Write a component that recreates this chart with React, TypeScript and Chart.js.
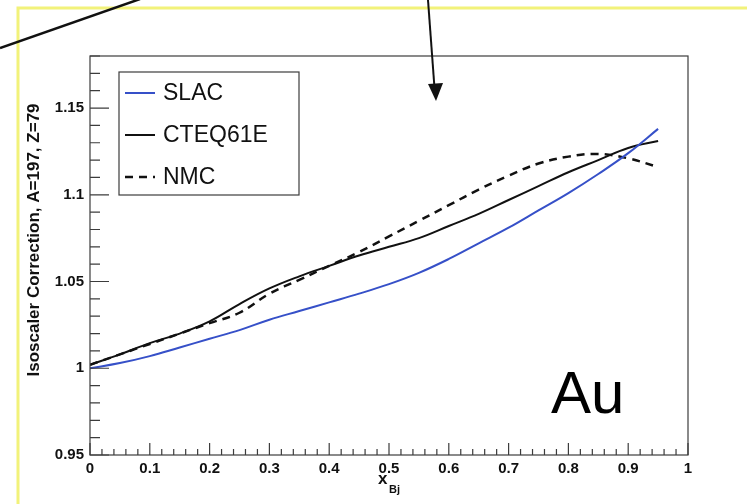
import React, { useEffect, useRef } from "react";
import { Chart, registerables } from "chart.js";

Chart.register(...registerables);

// ---- data ----
const xBj = [0, 0.05, 0.1, 0.15, 0.2, 0.25, 0.3, 0.35, 0.4, 0.45, 0.5, 0.55, 0.6, 0.65, 0.7, 0.75, 0.8, 0.85, 0.9, 0.95];
const slac = [1.0, 1.003, 1.007, 1.012, 1.017, 1.022, 1.028, 1.033, 1.038, 1.043, 1.0485, 1.055, 1.063, 1.072, 1.081, 1.091, 1.101, 1.112, 1.124, 1.138];
const cteq61e = [1.002, 1.008, 1.0145, 1.02, 1.027, 1.037, 1.046, 1.053, 1.059, 1.065, 1.07, 1.075, 1.082, 1.089, 1.097, 1.105, 1.113, 1.12, 1.127, 1.131];
const nmc = [1.002, 1.008, 1.014, 1.02, 1.026, 1.032, 1.043, 1.051, 1.059, 1.067, 1.076, 1.085, 1.094, 1.103, 1.111, 1.118, 1.122, 1.1235, 1.121, 1.116];

const seriesLabels = ["SLAC", "CTEQ61E", "NMC"];
const yAxisTitle = "Isoscaler Correction, A=197, Z=79";
const xAxisTitle = "x";
const xAxisSub = "Bj";
const nucleusLabel = "Au";

const X_MIN = 0, X_MAX = 1, X_STEP = 0.1;
const Y_MIN = 0.95, Y_MAX = 1.18, Y_STEP = 0.05;

const FONT = "'Liberation Sans', Arial, Helvetica, sans-serif";

const fmt = (v: number) => String(Math.round(v * 100) / 100);

const decorPlugin = {
  id: "decor",
  afterDraw(chart: any) {
    const { ctx, chartArea } = chart;
    const { left, right, top, bottom } = chartArea;
    const xs = chart.scales.x;
    const ys = chart.scales.y;
    ctx.save();

    // frame
    ctx.strokeStyle = "#3c3c3c";
    ctx.lineWidth = 1.2;
    ctx.strokeRect(left, top, right - left, bottom - top);

    // x ticks (inward)
    ctx.beginPath();
    for (let i = 0; i <= 50; i++) {
      const v = i * 0.02;
      const px = xs.getPixelForValue(v);
      const len = i % 5 === 0 ? 12 : 6;
      ctx.moveTo(px, bottom);
      ctx.lineTo(px, bottom - len);
    }
    // y ticks (inward)
    for (let i = 95; i <= 118; i++) {
      const v = i / 100;
      const py = ys.getPixelForValue(v);
      const len = i % 5 === 0 ? 19 : 10;
      ctx.moveTo(left, py);
      ctx.lineTo(left + len, py);
    }
    ctx.stroke();

    // legend box
    const lx = left + 29, ly = top + 16, lw = 180, lh = 123;
    ctx.fillStyle = "#fff";
    ctx.fillRect(lx, ly, lw, lh);
    ctx.strokeStyle = "#3c3c3c";
    ctx.lineWidth = 1.2;
    ctx.strokeRect(lx, ly, lw, lh);
    ctx.font = `23px ${FONT}`;
    ctx.textBaseline = "middle";
    ctx.textAlign = "left";
    chart.data.datasets.forEach((ds: any, i: number) => {
      const cy = ly + 21 + i * 42;
      ctx.beginPath();
      ctx.strokeStyle = ds.borderColor;
      ctx.lineWidth = ds.borderWidth;
      ctx.setLineDash(ds.borderDash || []);
      ctx.moveTo(lx + 6, cy);
      ctx.lineTo(lx + 36, cy);
      ctx.stroke();
      ctx.setLineDash([]);
      ctx.fillStyle = "#111";
      ctx.fillText(ds.label, lx + 44, cy + 1);
    });

    // nucleus label
    ctx.font = `60px ${FONT}`;
    ctx.fillStyle = "#000";
    ctx.textBaseline = "alphabetic";
    ctx.textAlign = "left";
    ctx.fillText(nucleusLabel, 551, 413);

    // y axis title
    ctx.save();
    ctx.translate(39, 240);
    ctx.rotate(-Math.PI / 2);
    ctx.font = `bold 17px ${FONT}`;
    ctx.textAlign = "center";
    ctx.textBaseline = "alphabetic";
    ctx.fillStyle = "#111";
    ctx.fillText(yAxisTitle, 0, 0);
    ctx.restore();

    // x axis title with subscript
    ctx.font = `bold 17px ${FONT}`;
    ctx.fillStyle = "#111";
    ctx.textAlign = "left";
    ctx.fillText(xAxisTitle, 378, 484);
    ctx.font = `bold 11px ${FONT}`;
    ctx.fillText(xAxisSub, 389, 493);

    // yellow outer frame (partial)
    ctx.strokeStyle = "#f2f27a";
    ctx.lineWidth = 3;
    ctx.beginPath();
    ctx.moveTo(747, 8);
    ctx.lineTo(18, 8);
    ctx.lineTo(18, 504);
    ctx.stroke();

    // top-left diagonal line
    ctx.strokeStyle = "#111";
    ctx.lineWidth = 2.4;
    ctx.beginPath();
    ctx.moveTo(0, 48);
    ctx.lineTo(140, -1);
    ctx.stroke();

    // arrow
    ctx.lineWidth = 2;
    ctx.beginPath();
    ctx.moveTo(428, 0);
    ctx.lineTo(434.5, 88);
    ctx.stroke();
    ctx.fillStyle = "#111";
    ctx.beginPath();
    ctx.moveTo(436, 101);
    ctx.lineTo(428, 84);
    ctx.lineTo(443, 83);
    ctx.closePath();
    ctx.fill();

    ctx.restore();
  },
};

export default function App() {
  const ref = useRef<HTMLCanvasElement | null>(null);
  useEffect(() => {
    if (!ref.current) return;
    const mk = (ys: number[]) => xBj.map((x, i) => ({ x, y: ys[i] }));
    const chart = new Chart(ref.current, {
      type: "line",
      data: {
        datasets: [
          { label: seriesLabels[0], data: mk(slac), borderColor: "#3650c8", borderWidth: 2, pointRadius: 0, tension: 0.4, fill: false },
          { label: seriesLabels[1], data: mk(cteq61e), borderColor: "#111111", borderWidth: 2, pointRadius: 0, tension: 0.4, fill: false },
          { label: seriesLabels[2], data: mk(nmc), borderColor: "#111111", borderWidth: 2.5, borderDash: [8, 6], pointRadius: 0, tension: 0.4, fill: false },
        ],
      },
      options: {
        responsive: false,
        animation: false,
        layout: { padding: { top: 56, right: 59, left: 0, bottom: 0 } },
        plugins: { legend: { display: false }, tooltip: { enabled: false } },
        scales: {
          x: {
            type: "linear",
            min: X_MIN,
            max: X_MAX,
            grid: { display: false, drawTicks: false },
            border: { display: false },
            ticks: {
              stepSize: X_STEP,
              maxRotation: 0,
              autoSkip: false,
              padding: 5,
              color: "#111",
              font: { family: FONT, size: 15, weight: "bold" },
              callback: (v: any) => fmt(Number(v)),
            },
            afterFit: (s: any) => { s.height = 49; },
          },
          y: {
            type: "linear",
            min: Y_MIN,
            max: Y_MAX,
            grid: { display: false, drawTicks: false },
            border: { display: false },
            ticks: {
              stepSize: Y_STEP,
              includeBounds: false,
              autoSkip: false,
              padding: 6,
              color: "#111",
              font: { family: FONT, size: 15, weight: "bold" },
              callback: (v: any) => fmt(Number(v)),
            },
            afterFit: (s: any) => { s.width = 90; },
          },
        },
      } as any,
      plugins: [decorPlugin],
    });
    return () => chart.destroy();
  }, []);
  return (
    <div style={{ position: "absolute", left: 0, top: 0, width: 747, height: 504, background: "#fff" }}>
      <canvas ref={ref} width={747} height={504} style={{ display: "block" }} />
    </div>
  );
}
